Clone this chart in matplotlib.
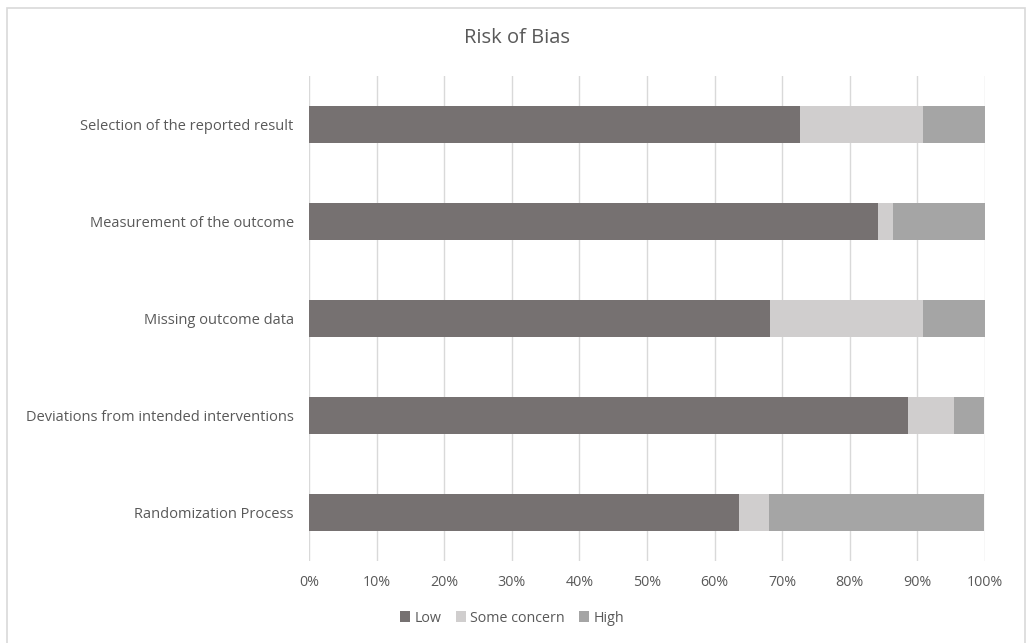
import matplotlib
matplotlib.use("Agg")
import matplotlib.pyplot as plt
from matplotlib.patches import Rectangle
import numpy as np

categories = ["Randomization Process", "Deviations from intended interventions",
              "Missing outcome data", "Measurement of the outcome",
              "Selection of the reported result"]
low = [63.6, 88.6, 68.2, 84.1, 72.7]
some_concern = [4.5, 6.8, 22.7, 2.3, 18.2]
high = [31.8, 4.5, 9.1, 13.6, 9.1]
series_names = ["Low", "Some concern", "High"]
colors = ["#767171", "#d0cece", "#a5a5a5"]
xticks = [0, 10, 20, 30, 40, 50, 60, 70, 80, 90, 100]

plt.rcParams['font.family'] = ['Open Sans', 'DejaVu Sans']
text_color = "#595959"

fig = plt.figure(figsize=(10.29, 6.43), dpi=100)
fig.patches.append(Rectangle((7/1029, -0.05), (1025-7)/1029, 1.05 - 8/643,
                             transform=fig.transFigure, fill=False,
                             edgecolor="#d9d9d9", linewidth=1.2))
ax = fig.add_axes([309/1029, 1 - 561/643, (985-309)/1029, (561-76)/643])

y = np.arange(len(categories))
left = np.zeros(len(categories))
for vals, name, c in zip([low, some_concern, high], series_names, colors):
    ax.barh(y, vals, left=left, height=0.39, color=c, label=name, zorder=3)
    left = left + np.array(vals)

ax.set_xlim(0, 100)
ax.set_ylim(-0.5, len(categories) - 0.5)
ax.set_xticks(xticks)
ax.set_xticklabels([f"{t}%" for t in xticks], fontsize=10.3, color=text_color)
ax.set_yticks(y)
ax.set_yticklabels(categories, fontsize=10.5, color=text_color)
ax.tick_params(axis='both', length=0)
ax.tick_params(axis='y', pad=11)
ax.tick_params(axis='x', pad=10)
ax.grid(axis='x', color="#d9d9d9", linewidth=1, zorder=0)
for s in ax.spines.values():
    s.set_visible(False)

fig.text(517/1029, 1 - 38/643, "Risk of Bias", ha='center', va='center',
         fontsize=14.5, color=text_color)

leg = fig.legend(loc='center', bbox_to_anchor=(512/1029, 1 - 618/643), ncol=3,
                 frameon=False, fontsize=10.3, handlelength=0.7, handleheight=0.7,
                 handletextpad=0.3, columnspacing=1.0)
for t in leg.get_texts():
    t.set_color(text_color)

fig.savefig("out.png", dpi=100)
